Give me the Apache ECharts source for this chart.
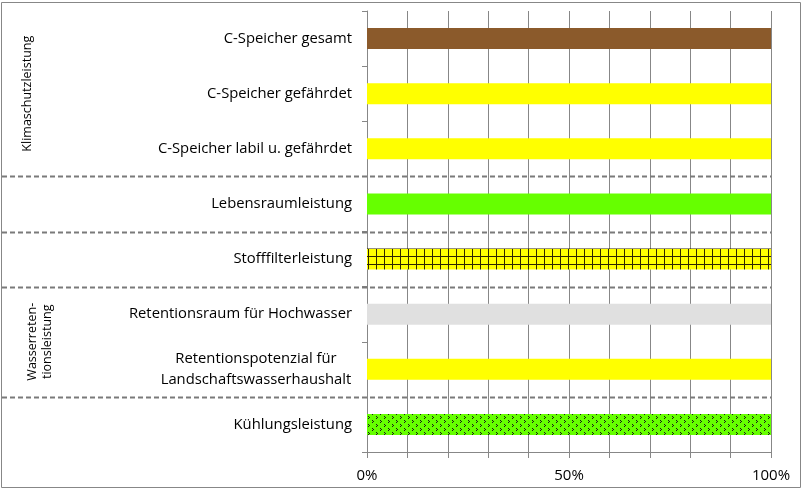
<!DOCTYPE html>
<html><head><meta charset="utf-8">
<script src="https://cdn.jsdelivr.net/npm/echarts@6/dist/echarts.min.js"></script>
<style>html,body{margin:0;padding:0;background:#fff}#c{width:802px;height:492px}</style>
</head><body><div id="c"></div>
<script>
// ---- data ----
const categories = ['C-Speicher gesamt','C-Speicher gefährdet','C-Speicher labil u. gefährdet','Lebensraumleistung','Stofffilterleistung','Retentionsraum für Hochwasser','Retentionspotenzial für\nLandschaftswasserhaushalt','Kühlungsleistung'];
const values = [100,100,100,100,100,100,100,100];
const xTickLabelValues = [0,50,100];
const groupNames = ['Klimaschutzleistung','Wasserreten-\ntionsleistung'];
const groupRanges = [[0,2],[5,6]];
const separatorsAfter = [2,3,4,6];

// ---- styles ----
const FONT = '"Open Sans", sans-serif';
const GRAY = '#878787';
function gridPattern(){
  const c=document.createElement('canvas'); c.width=8; c.height=8;
  const g=c.getContext('2d');
  g.fillStyle='#FFFF00'; g.fillRect(0,0,8,8);
  g.fillStyle='#2e2600'; g.fillRect(0,0,8,1); g.fillRect(0,0,1,8);
  return c;
}
function dotPattern(){
  const c=document.createElement('canvas'); c.width=8; c.height=8;
  const g=c.getContext('2d');
  g.fillStyle='#66FF00'; g.fillRect(0,0,8,8);
  g.fillStyle='#1a1a1a';
  [[0,0],[1,1],[0,2],[4,4],[5,5],[4,6]].forEach(p=>g.fillRect(p[0],p[1],1,1));
  return c;
}
const barColors = ['#8B5A2B','#FFFF00','#FFFF00','#66FF00',
  {image:gridPattern(),repeat:'repeat'},'#E0E0E0','#FFFF00',
  {image:dotPattern(),repeat:'repeat'}];

const chart = echarts.init(document.getElementById('c'));
chart.setOption({
  animation:false,
  grid:{left:367,right:31,top:11,bottom:40,containLabel:false},
  xAxis:{type:'value',min:0,max:100,interval:10,
    axisLine:{show:true,lineStyle:{color:GRAY,width:1}},
    axisTick:{show:true,length:6,lineStyle:{color:GRAY}},
    splitLine:{show:true,lineStyle:{color:GRAY,width:1}},
    axisLabel:{margin:16,color:'#000',fontFamily:FONT,fontSize:15,showMaxLabel:true,
      formatter:v=>xTickLabelValues.indexOf(v)>=0? v+'%':''}},
  yAxis:{type:'category',inverse:true,data:categories,
    axisLine:{show:true,lineStyle:{color:GRAY,width:1}},
    axisTick:{show:true,length:5,lineStyle:{color:GRAY}},
    splitLine:{show:false},
    axisLabel:{margin:15,color:'#000',fontFamily:FONT,fontSize:14.8,
      formatter:v=>v.indexOf('\n')>=0? v.split('\n').map(l=>'{c|'+l+'}').join('\n') : v,
      rich:{c:{width:192,align:'center',fontFamily:FONT,fontSize:14.8,lineHeight:21,color:'#000'}}}},
  series:[{type:'bar',barWidth:21,
    data:values.map((v,i)=>({value:v,itemStyle:{color:barColors[i]}}))}]
});

function py(i){return chart.convertToPixel({yAxisIndex:0},i);}
const gfx=[];
gfx.push({type:'rect',shape:{x:1.5,y:2.5,width:799,height:485},style:{fill:'none',stroke:GRAY,lineWidth:1},silent:true});
separatorsAfter.forEach(i=>{
  const y=Math.round((py(i)+py(i+1))/2)+0.5;
  gfx.push({type:'line',shape:{x1:2,y1:y,x2:771,y2:y},style:{stroke:'#7a7a7a',lineWidth:1.8,lineDash:[5,3]},silent:true,z:10});
});
const gx=[27,40];
groupNames.forEach((n,k)=>{
  const yc=(py(groupRanges[k][0])+py(groupRanges[k][1]))/2;
  gfx.push({type:'text',x:gx[k],y:yc,rotation:Math.PI/2,silent:true,
    style:{text:n,textAlign:'center',textVerticalAlign:'middle',font:'12.5px '+FONT,fill:'#000',lineHeight:15}});
});
chart.setOption({graphic:gfx});
</script></body></html>
